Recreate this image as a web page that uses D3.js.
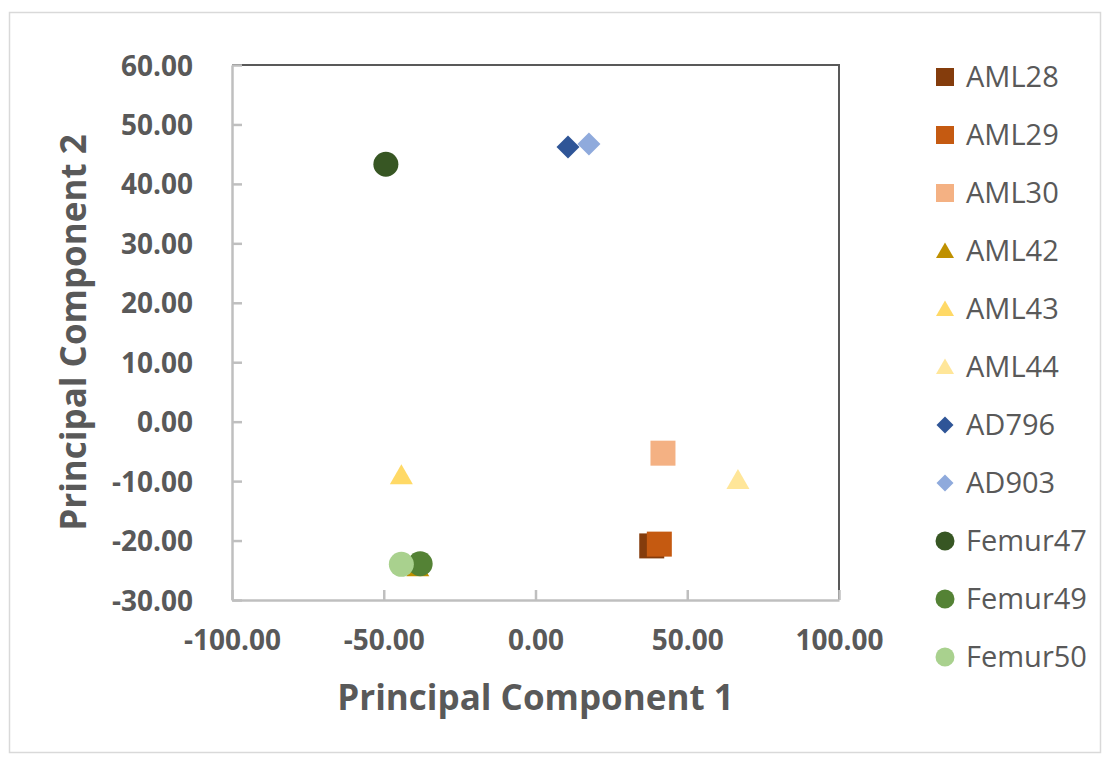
<!DOCTYPE html>
<html>
<head>
<meta charset="utf-8">
<script src="https://cdn.jsdelivr.net/npm/d3@7"></script>
<style>
  html, body { margin: 0; padding: 0; background: #fff; }
  svg { display: block; font-family: "Open Sans", "Noto Sans", sans-serif; }
</style>
</head>
<body>
<svg id="chart" width="1107" height="758"></svg>
<script>
// ---- data ----
const seriesNames = ["AML28","AML29","AML30","AML42","AML43","AML44","AD796","AD903","Femur47","Femur49","Femur50"];
const pc1Values = [38.3, 40.8, 42.0, -38.8, -44.2, 66.7, 10.7, 17.6, -49.3, -38.0, -44.2];
const pc2Values = [-20.9, -20.6, -5.3, -24.5, -9.0, -9.8, 46.2, 46.7, 43.3, -23.9, -24.0];
const seriesShapes = ["square","square","square","triangle","triangle","triangle","diamond","diamond","circle","circle","circle"];
const seriesColors = ["#843c0c","#c55a11","#f4b183","#bf9000","#ffd966","#ffe699","#2f5597","#8faadc","#375623","#548235","#a9d18e"];
const xTicks = [-100, -50, 0, 50, 100];
const yTicks = [-30, -20, -10, 0, 10, 20, 30, 40, 50, 60];
const xTitle = "Principal Component 1";
const yTitle = "Principal Component 2";

// ---- layout ----
const svg = d3.select("#chart");
const L = 232, R = 839, T = 65, B = 600;
const x = d3.scaleLinear().domain([-100, 100]).range([L, R]);
const y = d3.scaleLinear().domain([-30, 60]).range([B, T]);
const fmt = d => d3.format(".2f")(d).replace("\u2212", "-");

// outer chart border
svg.append("rect").attr("x", 9.5).attr("y", 12.5).attr("width", 1091).attr("height", 740)
  .attr("fill", "#fff").attr("stroke", "#d9d9d9").attr("stroke-width", 1.5);

// top/right frame (dark)
svg.append("path")
  .attr("d", `M${L},${T}H${R}V${B}`)
  .attr("fill", "none").attr("stroke", "#595959").attr("stroke-width", 2);

// axes
const textColor = "#595959";
const axisColor = "#bfbfbf";
const yAxis = d3.axisLeft(y).tickValues(yTicks).tickSizeInner(-10).tickSizeOuter(0)
  .tickPadding(39).tickFormat(fmt);
const gy = svg.append("g").attr("transform", `translate(${L},0)`).call(yAxis);
const xAxis = d3.axisBottom(x).tickValues(xTicks).tickSizeInner(-10).tickSizeOuter(0)
  .tickPadding(30).tickFormat(fmt);
const gx = svg.append("g").attr("transform", `translate(0,${B})`).call(xAxis);

[gx, gy].forEach(g => {
  g.select(".domain").attr("stroke", axisColor).attr("stroke-width", 2.5);
  g.selectAll(".tick line").attr("stroke", axisColor).attr("stroke-width", 2.5);
  g.selectAll(".tick text").attr("fill", textColor).attr("font-size", 28)
    .attr("font-weight", 700).attr("font-family", "'Open Sans', sans-serif");
});
gy.selectAll(".tick text").attr("dy", "0.36em");
gx.selectAll(".tick text").attr("dy", "0.71em");

// axis titles
svg.append("text").attr("x", (L + R) / 2).attr("y", 710).attr("text-anchor", "middle")
  .attr("fill", textColor).attr("font-size", 35).attr("font-weight", 700).text(xTitle);
svg.append("text").attr("transform", `translate(86,${(T + B) / 2}) rotate(-90)`).attr("text-anchor", "middle")
  .attr("fill", textColor).attr("font-size", 35).attr("font-weight", 700).text(yTitle);

// marker generator
function markerPath(shape, s) {
  const h = s / 2;
  switch (shape) {
    case "square": return `M${-h},${-h}H${h}V${h}H${-h}Z`;
    case "diamond": return `M0,${-h}L${h},0L0,${h}L${-h},0Z`;
    case "triangle": { const th = s * 0.87; return `M0,${-th * 0.55}L${h},${th * 0.45}L${-h},${th * 0.45}Z`; }
    case "circle": return d3.arc()({innerRadius: 0, outerRadius: h, startAngle: 0, endAngle: 2 * Math.PI});
  }
}
const plotSize = {square: 25, diamond: 23, triangle: 23, circle: 25};
const legendSize = {square: 18, diamond: 17, triangle: 18, circle: 19};

// points
const data = seriesNames.map((n, i) => ({name: n, px: pc1Values[i], py: pc2Values[i], shape: seriesShapes[i], color: seriesColors[i]}));
svg.append("g").selectAll("path").data(data).join("path")
  .attr("transform", d => `translate(${x(d.px)},${y(d.py)})`)
  .attr("d", d => markerPath(d.shape, plotSize[d.shape]))
  .attr("fill", d => d.color);

// legend
const legY = d3.scalePoint().domain(seriesNames).range([77, 657]);
const leg = svg.append("g").selectAll("g").data(data).join("g")
  .attr("transform", d => `translate(945,${legY(d.name)})`);
leg.append("path").attr("d", d => markerPath(d.shape, legendSize[d.shape])).attr("fill", d => d.color);
leg.append("text").attr("x", 21).attr("dy", "0.36em").attr("fill", textColor)
  .attr("font-size", 29).attr("font-weight", 400).text(d => d.name);
</script>
</body>
</html>
